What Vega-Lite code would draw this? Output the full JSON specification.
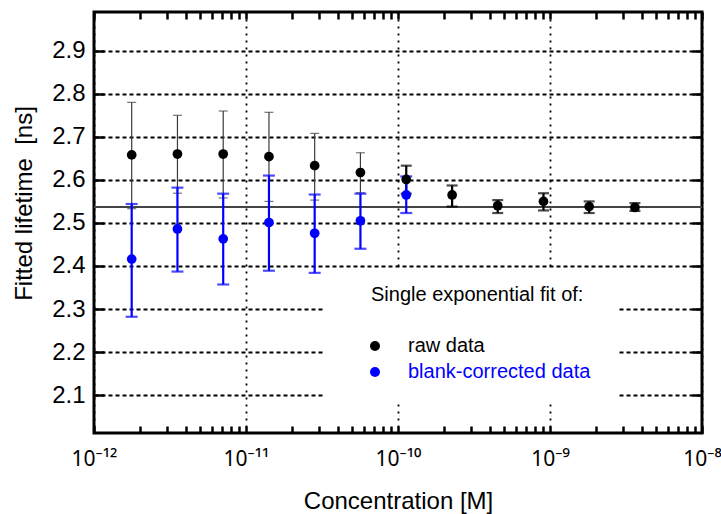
{
  "$schema": "https://vega.github.io/schema/vega-lite/v6.json",
  "width": 608,
  "height": 421,
  "autosize": {"type": "none"},
  "padding": {"left": 94, "top": 12, "right": 19, "bottom": 81},
  "background": "white",
  "config": {
    "view": {"stroke": "black", "strokeWidth": 3},
    "font": "Liberation Sans",
    "axis": {
      "domain": false,
      "labelFont": "Liberation Sans",
      "labelColor": "black",
      "titleFont": "Liberation Sans",
      "titleFontWeight": "normal",
      "titleColor": "black",
      "gridColor": "black",
      "gridWidth": 1.8
    }
  },
  "data": {
    "values": [
      {"series": "raw data", "conc": 1.77e-12, "tau": 2.658, "lo": 2.533, "hi": 2.780},
      {"series": "raw data", "conc": 3.54e-12, "tau": 2.660, "lo": 2.569, "hi": 2.750},
      {"series": "raw data", "conc": 7.08e-12, "tau": 2.660, "lo": 2.558, "hi": 2.760},
      {"series": "raw data", "conc": 1.416e-11, "tau": 2.654, "lo": 2.550, "hi": 2.757},
      {"series": "raw data", "conc": 2.83e-11, "tau": 2.633, "lo": 2.553, "hi": 2.708},
      {"series": "raw data", "conc": 5.66e-11, "tau": 2.617, "lo": 2.570, "hi": 2.663},
      {"series": "raw data", "conc": 1.133e-10, "tau": 2.601, "lo": 2.568, "hi": 2.633},
      {"series": "raw data", "conc": 2.27e-10, "tau": 2.565, "lo": 2.538, "hi": 2.587},
      {"series": "raw data", "conc": 4.53e-10, "tau": 2.540, "lo": 2.523, "hi": 2.553},
      {"series": "raw data", "conc": 9.06e-10, "tau": 2.550, "lo": 2.529, "hi": 2.569},
      {"series": "raw data", "conc": 1.81e-9, "tau": 2.538, "lo": 2.523, "hi": 2.550},
      {"series": "raw data", "conc": 3.62e-9, "tau": 2.536, "lo": 2.528, "hi": 2.546},
      {"series": "blank-corrected data", "conc": 1.77e-12, "tau": 2.416, "lo": 2.282, "hi": 2.544},
      {"series": "blank-corrected data", "conc": 3.54e-12, "tau": 2.486, "lo": 2.387, "hi": 2.582},
      {"series": "blank-corrected data", "conc": 7.08e-12, "tau": 2.463, "lo": 2.357, "hi": 2.568},
      {"series": "blank-corrected data", "conc": 1.416e-11, "tau": 2.501, "lo": 2.389, "hi": 2.610},
      {"series": "blank-corrected data", "conc": 2.83e-11, "tau": 2.476, "lo": 2.384, "hi": 2.566},
      {"series": "blank-corrected data", "conc": 5.66e-11, "tau": 2.505, "lo": 2.440, "hi": 2.568},
      {"series": "blank-corrected data", "conc": 1.133e-10, "tau": 2.565, "lo": 2.523, "hi": 2.608}
    ]
  },
  "layer": [
    {
      "mark": {"type": "rect", "fill": "white", "stroke": null},
      "encoding": {
        "x": {"datum": 3.31e-11, "type": "quantitative", "scale": {"type": "log", "domain": [1e-12, 1e-8]}, "axis": null},
        "x2": {"datum": 2.76e-9},
        "y": {"datum": 2.395, "type": "quantitative", "scale": {"domain": [2.012, 2.99], "zero": false, "nice": false}, "axis": null},
        "y2": {"datum": 2.082}
      }
    },
    {
      "mark": {"type": "rule", "color": "#444444", "strokeWidth": 1.5},
      "encoding": {
        "y": {"datum": 2.537, "type": "quantitative", "scale": {"domain": [2.012, 2.99], "zero": false, "nice": false}, "axis": null}
      }
    },
    {
      "transform": [{"filter": "datum.series === 'raw data'"}],
      "mark": {"type": "rule"},
      "encoding": {
        "x": {"field": "conc", "type": "quantitative", "scale": {"type": "log", "domain": [1e-12, 1e-8]},
          "axis": {"orient": "top", "offset": -7, "tickSize": 7, "tickColor": "#000000", "tickWidth": 2.5, "values": [1e-12,2e-12,3e-12,4e-12,5e-12,6e-12,7e-12,8e-12,9e-12,1e-11,2e-11,3e-11,4e-11,5e-11,6e-11,7e-11,8e-11,9e-11,1e-10,2e-10,3e-10,4e-10,5e-10,6e-10,7e-10,8e-10,9e-10,1e-9,2e-9,3e-9,4e-9,5e-9,6e-9,7e-9,8e-9,9e-9,1e-8], "labels": false, "grid": false, "title": null, "zindex": 5}},
        "y": {"field": "lo", "type": "quantitative", "scale": {"domain": [2.012, 2.99], "zero": false, "nice": false},
          "axis": {"orient": "right", "offset": -10, "tickSize": 10, "tickColor": "#000000", "tickWidth": 2.5, "values": [2.1,2.2,2.3,2.4,2.5,2.6,2.7,2.8,2.9], "labels": false, "grid": false, "title": null, "zindex": 5}},
        "y2": {"field": "hi"},
        "color": {"condition": {"test": "datum.conc > 1e-10", "value": "#000000"}, "value": "#3a3a3a"},
        "strokeWidth": {"condition": {"test": "datum.conc > 1e-10", "value": 2.2}, "value": 1.2}
      }
    },
    {
      "transform": [{"filter": "datum.series === 'raw data' && datum.conc < 1e-10"}, {"fold": ["lo", "hi"], "as": ["end", "val"]}],
      "mark": {"type": "tick", "orient": "horizontal", "size": 9, "thickness": 1.2, "color": "#3a3a3a"},
      "encoding": {
        "x": {"field": "conc", "type": "quantitative", "scale": {"type": "log", "domain": [1e-12, 1e-8]}, "axis": null},
        "y": {"field": "val", "type": "quantitative", "scale": {"domain": [2.012, 2.99], "zero": false, "nice": false}, "axis": null}
      }
    },
    {
      "transform": [{"filter": "datum.series === 'raw data' && datum.conc > 1e-10"}, {"fold": ["lo", "hi"], "as": ["end", "val"]}],
      "mark": {"type": "tick", "orient": "horizontal", "size": 11, "thickness": 2.2, "color": "#000000"},
      "encoding": {
        "x": {"field": "conc", "type": "quantitative", "scale": {"type": "log", "domain": [1e-12, 1e-8]}, "axis": null},
        "y": {"field": "val", "type": "quantitative", "scale": {"domain": [2.012, 2.99], "zero": false, "nice": false}, "axis": null}
      }
    },
    {
      "transform": [{"filter": "datum.series === 'blank-corrected data'"}],
      "mark": {"type": "rule", "color": "#0000ff", "strokeWidth": 2.2},
      "encoding": {
        "x": {"field": "conc", "type": "quantitative", "scale": {"type": "log", "domain": [1e-12, 1e-8]}, "axis": null},
        "y": {"field": "lo", "type": "quantitative", "scale": {"domain": [2.012, 2.99], "zero": false, "nice": false}, "axis": null},
        "y2": {"field": "hi"}
      }
    },
    {
      "transform": [{"filter": "datum.series === 'blank-corrected data'"}, {"fold": ["lo", "hi"], "as": ["end", "val"]}],
      "mark": {"type": "tick", "orient": "horizontal", "size": 12, "thickness": 2.2, "color": "#0000ff"},
      "encoding": {
        "x": {"field": "conc", "type": "quantitative", "scale": {"type": "log", "domain": [1e-12, 1e-8]}, "axis": null},
        "y": {"field": "val", "type": "quantitative", "scale": {"domain": [2.012, 2.99], "zero": false, "nice": false}, "axis": null}
      }
    },
    {
      "mark": {"type": "point", "shape": "circle", "filled": true, "opacity": 1, "size": 95},
      "encoding": {
        "x": {"field": "conc", "type": "quantitative", "scale": {"type": "log", "domain": [1e-12, 1e-8]},
          "axis": {
            "orient": "bottom",
            "offset": -7,
            "tickSize": 7,
            "tickColor": "#000000",
            "tickWidth": 2.5,
            "values": [1e-12,2e-12,3e-12,4e-12,5e-12,6e-12,7e-12,8e-12,9e-12,1e-11,2e-11,3e-11,4e-11,5e-11,6e-11,7e-11,8e-11,9e-11,1e-10,2e-10,3e-10,4e-10,5e-10,6e-10,7e-10,8e-10,9e-10,1e-9,2e-9,3e-9,4e-9,5e-9,6e-9,7e-9,8e-9,9e-9,1e-8],
            "labelExpr": "abs(log(datum.value)/LN10 - round(log(datum.value)/LN10)) > 0.001 ? '' : (round(log(datum.value)/LN10) == -12 ? '10⁻¹²' : round(log(datum.value)/LN10) == -11 ? '10⁻¹¹' : round(log(datum.value)/LN10) == -10 ? '10⁻¹⁰' : round(log(datum.value)/LN10) == -9 ? '10⁻⁹' : '10⁻⁸')",
            "labelFont": "Noto Sans",
            "labelFontSize": 21,
            "labelBaseline": "alphabetic",
            "labelFlush": false,
            "labelOverlap": false,
            "labelBound": false,
            "labelPadding": 32,
            "grid": true,
            "gridDash": [2, 5],
            "gridOpacity": {"condition": {"test": "abs(log(datum.value)/LN10 - round(log(datum.value)/LN10)) < 0.001", "value": 1}, "value": 0},
            "title": "Concentration [M]",
            "titleFontSize": 24,
            "titleBaseline": "alphabetic",
            "titleY": 82
          }},
        "y": {"field": "tau", "type": "quantitative", "scale": {"domain": [2.012, 2.99], "zero": false, "nice": false},
          "axis": {
            "orient": "left",
            "offset": -10,
            "tickSize": 10,
            "tickColor": "#000000",
            "tickWidth": 2.5,
            "values": [2.1,2.2,2.3,2.4,2.5,2.6,2.7,2.8,2.9],
            "format": ".1f",
            "labelFontSize": 24,
            "labelPadding": 9,
            "grid": true,
            "gridDash": [4, 3],
            "title": "Fitted lifetime\u00a0 [ns]",
            "titleFontSize": 24,
            "titleBaseline": "alphabetic",
            "titleX": -73,
            "titleY": 191
          }},
        "color": {"field": "series", "type": "nominal",
          "scale": {"domain": ["raw data", "blank-corrected data"], "range": ["#000000", "#0000ff"]},
          "legend": {
            "orient": "none",
            "legendX": 277,
            "legendY": 273,
            "padding": 0,
            "title": "Single exponential fit of:",
            "titleFont": "Liberation Sans",
            "titleFontSize": 20,
            "titleFontWeight": "normal",
            "titleColor": "black",
            "titlePadding": 31,
            "titleLimit": 500,
            "labelFont": "Liberation Sans",
            "labelFontSize": 20,
            "labelLimit": 500,
            "labelOffset": 23,
            "symbolOffset": -6,
            "rowPadding": 6,
            "symbolType": "circle",
            "symbolSize": 100,
            "symbolStrokeWidth": 0,
            "symbolOpacity": 1,
            "encode": {"labels": {"update": {"fill": {"signal": "datum.value === 'raw data' ? '#000000' : '#0000ff'"}}}}
          }}
      }
    }
  ],
  "resolve": {"axis": {"x": "independent", "y": "independent"}}
}
